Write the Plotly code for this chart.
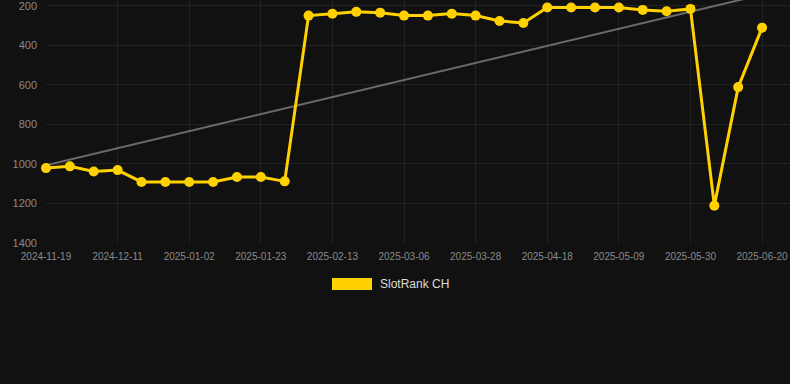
import plotly.graph_objects as go

dates = [
    "2024-11-19", "2024-11-26", "2024-12-04", "2024-12-11", "2024-12-18", "2024-12-25",
    "2025-01-02", "2025-01-09", "2025-01-16", "2025-01-23", "2025-01-30", "2025-02-06",
    "2025-02-13", "2025-02-20", "2025-02-27", "2025-03-06", "2025-03-13", "2025-03-21",
    "2025-03-28", "2025-04-04", "2025-04-11", "2025-04-18", "2025-04-25", "2025-05-02",
    "2025-05-09", "2025-05-16", "2025-05-23", "2025-05-30", "2025-06-06", "2025-06-13",
    "2025-06-20",
]
rank = [
    1021, 1012, 1038, 1031, 1091, 1091, 1091, 1091, 1066, 1066, 1088,
    249, 240, 230, 234, 249, 249, 239, 249, 276, 286,
    208, 208, 208, 208, 220, 227, 215, 1211, 611, 310,
]
trend_x = [dates[0], dates[-1]]
trend_y = [1007, 143]
tick_labels = dates[::3]
y_ticks = [200, 400, 600, 800, 1000, 1200, 1400]
series_name = "SlotRank CH"

BG = "#111111"
GOLD = "#FFD100"
GRID = "#222222"
TICK = "#8a8a8a"

fig = go.Figure()
fig.add_trace(go.Scatter(
    x=trend_x, y=trend_y, mode="lines",
    line=dict(color="#6b6b6b", width=2), showlegend=False, hoverinfo="skip",
))
fig.add_trace(go.Scatter(
    x=dates, y=rank, mode="lines+markers", name=series_name,
    line=dict(color=GOLD, width=3),
    marker=dict(color=GOLD, size=10),
    cliponaxis=False, showlegend=False,
))

L, R, T, B = 46, 0, 0, 141
W, H = 790, 384
pw, ph = W - L - R, H - T - B

def px_x(p):
    return (p - L) / pw

def px_y(p):
    return (H - B - p) / ph

fig.add_shape(type="rect", xref="paper", yref="paper",
              x0=px_x(332), x1=px_x(372), y0=px_y(290), y1=px_y(278),
              fillcolor=GOLD, line=dict(width=0))
fig.add_annotation(xref="paper", yref="paper", x=px_x(378), y=px_y(284),
                   text=series_name, showarrow=False, xanchor="left", yanchor="middle",
                   font=dict(color="#dddddd", size=12, family="Liberation Sans, Arial, sans-serif"))

fig.update_layout(
    width=W, height=H,
    margin=dict(l=L, r=R, t=T, b=B, autoexpand=False),
    paper_bgcolor=BG, plot_bgcolor=BG,
    font=dict(family="Liberation Sans, Arial, sans-serif", color=TICK),
    showlegend=False,
    xaxis=dict(
        type="category", categoryorder="array", categoryarray=dates,
        range=[0, 31.17], tickmode="array", tickvals=tick_labels, ticktext=tick_labels,
        showgrid=True, gridcolor=GRID, gridwidth=1, zeroline=False,
        showline=False, tickfont=dict(size=10, color=TICK), ticks="", ticklabelstandoff=6,
        ticklabeloverflow="allow",
    ),
    yaxis=dict(
        range=[1400, 170], tickmode="array", tickvals=y_ticks,
        showgrid=True, gridcolor=GRID, gridwidth=1, zeroline=False,
        showline=False, tickfont=dict(size=11, color=TICK), ticks="", ticklabelstandoff=8,
        ticklabeloverflow="allow",
    ),
)

fig.write_html(
    "out.html",
    config={"displayModeBar": False},
    post_script="document.body.style.margin='0';document.body.style.background='#111111';",
)
